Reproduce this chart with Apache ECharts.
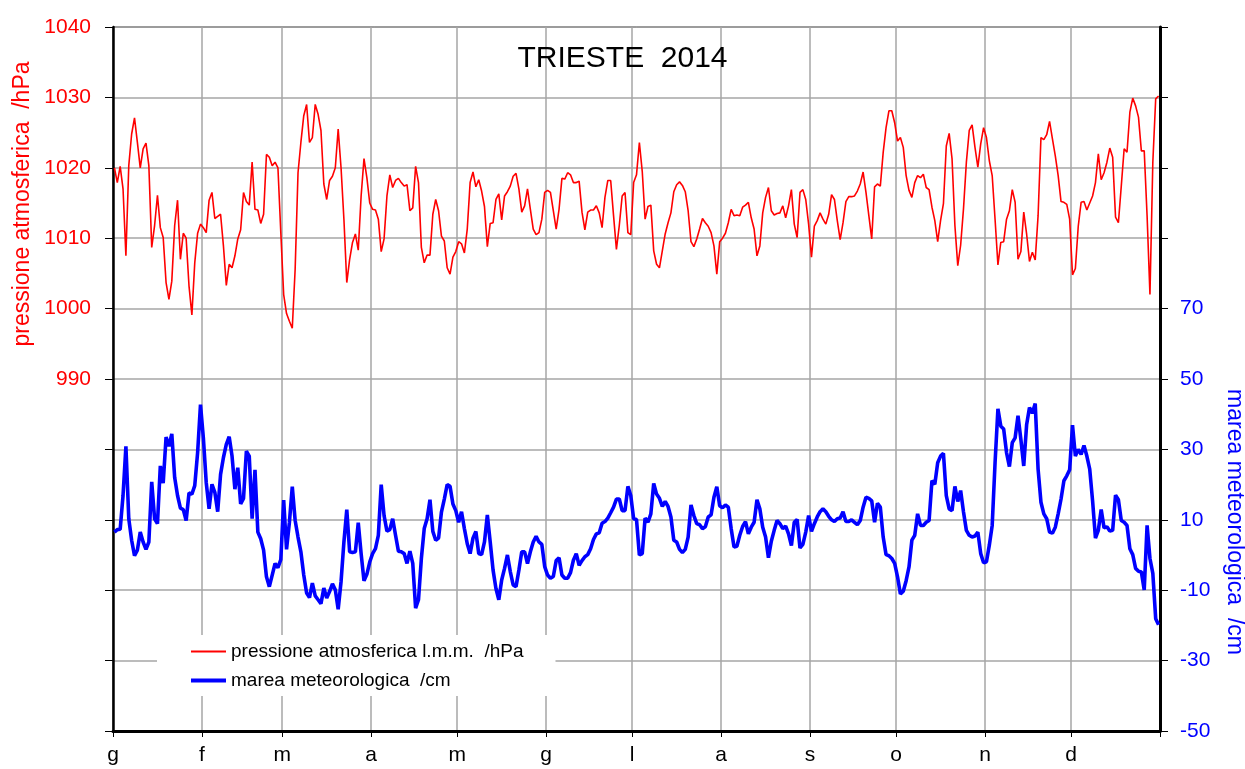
<!DOCTYPE html>
<html>
<head>
<meta charset="utf-8">
<script src="https://cdn.jsdelivr.net/npm/echarts@6/dist/echarts.min.js"></script>
<style>
  html, body { margin: 0; padding: 0; background: #fff; }
  #chart { width: 1245px; height: 769px; }
</style>
</head>
<body>
<div id="chart"></div>
<script>
// giorno d'inizio di ogni mese (2014) e iniziali dei mesi
var monthStarts = [0, 31, 59, 90, 120, 151, 181, 212, 243, 273, 304, 334];
var monthLabels = ['g', 'f', 'm', 'a', 'm', 'g', 'l', 'a', 's', 'o', 'n', 'd'];
var yearEnd = 365;

// pressione atmosferica l.m.m. /hPa, un valore al giorno
var pressione = [
  1020, 1017.9, 1020.2, 1017, 1007.5, 1020.3, 1024.8, 1027.1, 1023.6, 1020,
  1022.7, 1023.5, 1020.3, 1008.7, 1011.8, 1016.1, 1011.5, 1010.1, 1003.7, 1001.3,
  1003.9, 1011.8, 1015.4, 1007, 1010.7, 1010, 1003.2, 999.1, 1006.5, 1010.7,
  1012, 1011.5, 1010.8, 1015.4, 1016.5, 1012.8, 1013.1, 1013.4, 1008.9, 1003.3,
  1006.3, 1005.8, 1007.5, 1009.9, 1011.2, 1016.5, 1015.2, 1014.7, 1020.8, 1014.1,
  1014, 1012.1, 1013.4, 1021.9, 1021.5, 1020.3, 1020.8, 1020, 1010.8, 1002,
  999.3, 998.2, 997.2, 1005.6, 1019.3, 1023.6, 1027.4, 1029, 1023.6, 1024.3,
  1029, 1027.6, 1025.3, 1017.7, 1015.5, 1018.2, 1018.8, 1020, 1025.5, 1020,
  1012.7, 1003.7, 1007, 1009.4, 1010.6, 1008.3, 1016, 1021.3, 1018.6, 1015,
  1014.1, 1014, 1012.7, 1008.1, 1009.9, 1016, 1019, 1017.2, 1018.2, 1018.5,
  1017.9, 1017.4, 1017.6, 1013.9, 1014.3, 1020.2, 1017.9, 1008.7, 1006.5, 1007.6,
  1007.6, 1013.4, 1015.5, 1013.9, 1010.3, 1009.6, 1005.8, 1004.9, 1007.3, 1008.1,
  1009.5, 1009.2, 1007.9, 1011.3, 1017.9, 1019.4, 1017.3, 1018.3, 1016.7, 1014.5,
  1008.8, 1012.1, 1012.2, 1015.5, 1016.3, 1012.6, 1016, 1016.6, 1017.4, 1018.8,
  1019.2, 1017, 1013.7, 1014.6, 1017, 1014.1, 1011.3, 1010.5, 1010.8, 1012.7,
  1016.5, 1016.8, 1016.5, 1013.9, 1011.3, 1014.1, 1018.5, 1018.4, 1019.3, 1019,
  1017.9, 1017.9, 1018.1, 1013.7, 1011.2, 1013.7, 1014, 1014, 1014.6, 1013.6,
  1011.5, 1015.8, 1018.2, 1018.2, 1013.2, 1008.4, 1011.8, 1016, 1016.5, 1010.8,
  1010.5, 1017.9, 1019, 1023.6, 1019.5, 1012.7, 1014.5, 1014.7, 1008.2, 1006.3,
  1005.8, 1008.2, 1010.6, 1012.2, 1013.6, 1016.6, 1017.6, 1018, 1017.5, 1016.6,
  1013.9, 1009.5, 1008.8, 1009.9, 1011.3, 1012.8, 1012.2, 1011.7, 1010.8, 1008.9,
  1004.9, 1009.5, 1010, 1010.7, 1012.2, 1014.1, 1013.2, 1013.3, 1013.2, 1014.4,
  1014.7, 1015.1, 1012.9, 1011.3, 1007.5, 1008.9, 1013.6, 1015.8, 1017.2, 1013.9,
  1013.3, 1013.5, 1013.6, 1014.6, 1012.9, 1014.6, 1016.9, 1012, 1010.1, 1016.5,
  1016.9, 1015.5, 1012, 1007.3, 1011.7, 1012.5, 1013.6, 1012.7, 1012, 1013.4,
  1016.2, 1015.5, 1012.5, 1009.8, 1012.2, 1015.2, 1015.9, 1015.9, 1016, 1016.7,
  1017.7, 1019.4, 1016.5, 1013.2, 1009.9, 1017.3, 1017.7, 1017.4, 1022.2, 1025.7,
  1028.1, 1028.1, 1026.4, 1023.8, 1024.3, 1022.9, 1018.9, 1016.8, 1015.8, 1017.9,
  1018.9, 1018.6, 1019.1, 1017.2, 1016.9, 1014.4, 1012.5, 1009.5, 1012.5, 1014.9,
  1023.1, 1024.9, 1021.3, 1011.8, 1006.1, 1009, 1014.2, 1020.8, 1025.3, 1026.1,
  1022.9, 1020.1, 1023.4, 1025.7, 1024.3, 1021, 1018.9, 1012.7, 1006.2, 1009.4,
  1009.5, 1012.7, 1013.9, 1016.9, 1015.1, 1007, 1008.1, 1013.7, 1010.6, 1006.7,
  1008, 1006.9, 1013.2, 1024.3, 1024, 1024.7, 1026.6, 1024.1, 1021.7, 1018.9,
  1015.2, 1015.1, 1014.8, 1012.7, 1004.8, 1005.7, 1011.7, 1015.1, 1015.2, 1014,
  1015, 1016, 1017.9, 1022, 1018.3, 1019.3, 1020.8, 1022.8, 1021.5, 1013,
  1012.2, 1017.4, 1022.7, 1022.2, 1027.9, 1029.9, 1028.8, 1027.2, 1022.4, 1022.4,
  1013.2, 1002, 1020.8, 1029.8, 1030.2
];

// marea meteorologica /cm, un valore al giorno
var marea = [
  6.5, 7.2, 7.3, 16.9, 30.9, 10.3, 4.2, -0.2, 1.4, 6.5,
  3.7, 1.6, 3.7, 20.8, 10.3, 8.9, 25.3, 20.4, 33.5, 30.9,
  34.4, 22, 16.9, 13.3, 12.9, 9.8, 17.6, 17.3, 19.7, 29.1,
  42.7, 33.3, 20.6, 13.1, 20.1, 17.8, 12.3, 22.9, 27.7, 31.4,
  33.6, 28.1, 18.7, 24.8, 14.5, 16.1, 29.5, 28.1, 10.3, 24.2,
  6.5, 4.6, 1.4, -6.2, -9, -5.7, -2.4, -3.6, -1.3, 15.6,
  1.6, 9.3, 19.4, 9.8, 5.1, 0.9, -5.7, -10.8, -12.1, -8,
  -11.6, -12.7, -13.8, -9.4, -12.2, -10.4, -8.2, -9.9, -15.4, -7.6,
  3.7, 12.9, 0.9, 0.7, 0.9, 9.2, 0.4, -7.3, -5.5, -2,
  0.4, 1.8, 5.6, 20, 11.2, 6.8, 7.2, 10.3, 5.6, 1.1,
  0.9, 0.4, -2.4, 1.1, -2.4, -15.1, -12.7, -1, 7.5, 10.3,
  15.7, 6.7, 4.2, 4.8, 12.2, 15.9, 20, 19.5, 14.5, 12.6,
  9.3, 12.3, 7.5, 3.2, 0.4, 4.8, 6.7, 0.4, 0.1, 3.7,
  11.4, 3.7, -4.3, -9.5, -12.7, -7.1, -3.8, 0, -4.7, -8.5,
  -9, -4.3, 0.9, 0.9, -2.4, 0.9, 3.7, 5.3, 3.7, 3,
  -3.3, -5.7, -6.6, -6.1, -1.6, -0.8, -5.7, -6.6, -6.6, -5,
  -1.5, 0.4, -2.9, -1.6, -0.5, 0.1, 1.8, 4.4, 6, 6.3,
  9, 9.5, 10.5, 12, 13.6, 15.9, 15.9, 12.6, 12.6, 19.5,
  16.9, 10.3, 10.1, 0, 0.4, 10.5, 9.3, 11.7, 20.3, 17.3,
  16.1, 13.8, 15.2, 13.8, 10.8, 4.2, 3.7, 1.6, 0.7, 1.6,
  5.1, 14.2, 11.2, 8.9, 8.6, 7.5, 8, 10.8, 11.4, 16.4,
  19.4, 14, 13.4, 14.2, 13.6, 7.5, 2.3, 2.5, 5.6, 8.1,
  9.5, 6, 7.9, 9.3, 15.7, 13.1, 7.9, 5.1, -0.8, 3.9,
  7, 9.8, 8.9, 7.5, 8.2, 6, 2.7, 9.3, 10.1, 2,
  3, 6.5, 11.2, 6.7, 8.9, 10.8, 12.3, 13.1, 12.3, 11,
  10, 9.5, 10.3, 10.5, 12.3, 9.5, 9.5, 10, 9.3, 8.6,
  9.8, 13.6, 16.4, 16.1, 15.4, 9.3, 14.7, 13.6, 5.1, 0.1,
  -0.2, -1, -2.4, -6.2, -11.1, -10.3, -7.3, -3.4, 4.2, 5.6,
  11.7, 8.4, 8.4, 9.3, 9.8, 21.1, 20.1, 26.2, 28.1, 28.9,
  16.9, 13.1, 12.6, 19.5, 15.2, 18.3, 12.2, 7, 5.6, 5.1,
  5.4, 6.5, 0.4, -2.2, -1.9, 2.8, 8.4, 26.2, 41.5, 36.6,
  35.8, 29.1, 25.1, 31.9, 33.3, 39.6, 32.8, 25.3, 37, 41.9,
  40.3, 43, 24.4, 15, 11.7, 10.3, 6.5, 6.2, 7.9, 11.7,
  15.9, 21.1, 22.5, 24.2, 36.9, 28.1, 30, 28.6, 31.1, 28.1,
  24.4, 15.4, 4.8, 7, 12.9, 7.7, 8, 6.8, 7, 17,
  15.7, 9.8, 9.3, 8.4, 1.8, 0.1, -3.8, -4.6, -4.8, -9.9,
  8.4, -1, -5.2, -18.1, -19.8
];

var FONT = '"Liberation Sans", Arial, sans-serif';
var chart = echarts.init(document.getElementById('chart'));

var option = {
  backgroundColor: '#fff',
  animation: false,
  title: {
    text: 'TRIESTE  2014',
    left: 'center',
    top: 39,
    textStyle: { color: '#000', fontSize: 30, fontWeight: 'normal', fontFamily: FONT }
  },
  legend: {
    orient: 'vertical',
    left: 157,
    top: 635,
    padding: [7, 32, 6, 34],
    itemGap: 10,
    itemWidth: 35,
    itemHeight: 14,
    backgroundColor: '#fff',
    textStyle: { color: '#000', fontSize: 19, fontFamily: FONT },
    data: [
      { name: 'pressione atmosferica l.m.m.  /hPa', icon: 'path://M0,0h35v2h-35z' },
      { name: 'marea meteorologica  /cm', icon: 'path://M0,0h35v4h-35z' }
    ]
  },
  grid: {
    left: 113, right: 85, top: 27, bottom: 38,
    show: true, borderColor: '#000', borderWidth: 1
  },
  xAxis: {
    type: 'value',
    min: 0,
    max: yearEnd,
    axisLine: { onZero: false, lineStyle: { color: '#000', width: 3 } },
    axisTick: { customValues: monthStarts.concat([yearEnd]), length: 6, lineStyle: { color: '#000', width: 1 } },
    axisLabel: {
      customValues: monthStarts,
      margin: 14,
      color: '#000', fontSize: 21, fontFamily: FONT,
      formatter: function (v) { return monthLabels[monthStarts.indexOf(v)] || ''; }
    },
    splitLine: { show: true, lineStyle: { color: '#a6a6a6', width: 1.5 } }
  },
  yAxis: [
    {
      type: 'value',
      min: 940, max: 1040, interval: 10,
      axisLine: { show: true, onZero: false, lineStyle: { color: '#000', width: 2.5 } },
      axisTick: { show: true, length: 8, lineStyle: { color: '#000', width: 1 } },
      axisLabel: {
        margin: 22, color: '#ff0000', fontSize: 21, fontFamily: FONT,
        formatter: function (v) { return v >= 990 ? String(v) : ''; }
      },
      splitLine: { show: true, lineStyle: { color: '#a6a6a6', width: 1.5 } }
    },
    {
      type: 'value',
      min: -50, max: 150, interval: 20,
      position: 'right',
      axisLine: { show: true, onZero: false, lineStyle: { color: '#000', width: 3 } },
      axisTick: { show: true, length: 8, lineStyle: { color: '#000', width: 1 } },
      axisLabel: {
        margin: 20, color: '#0000ff', fontSize: 21, fontFamily: FONT,
        formatter: function (v) { return v <= 70 ? String(v) : ''; }
      },
      splitLine: { show: false }
    }
  ],
  graphic: [
    {
      type: 'text', x: 23, y: 204, rotation: Math.PI / 2,
      style: { text: 'pressione atmosferica  /hPa', fill: '#ff0000', font: '23px ' + FONT, align: 'center', verticalAlign: 'middle' }
    },
    {
      type: 'text', x: 1234, y: 522, rotation: -Math.PI / 2,
      style: { text: 'marea meteorologica  /cm', fill: '#0000ff', font: '23px ' + FONT, align: 'center', verticalAlign: 'middle' }
    }
  ],
  series: [
    {
      name: 'pressione atmosferica l.m.m.  /hPa',
      type: 'line',
      yAxisIndex: 0,
      symbol: 'none',
      color: '#ff0000',
      lineStyle: { color: '#ff0000', width: 1.6 },
      data: pressione.map(function (v, i) { return [i + 0.5, v]; })
    },
    {
      name: 'marea meteorologica  /cm',
      type: 'line',
      yAxisIndex: 1,
      symbol: 'none',
      color: '#0000ff',
      lineStyle: { color: '#0000ff', width: 3.6 },
      data: marea.map(function (v, i) { return [i + 0.5, v]; })
    }
  ]
};

chart.setOption(option);
</script>
</body>
</html>
